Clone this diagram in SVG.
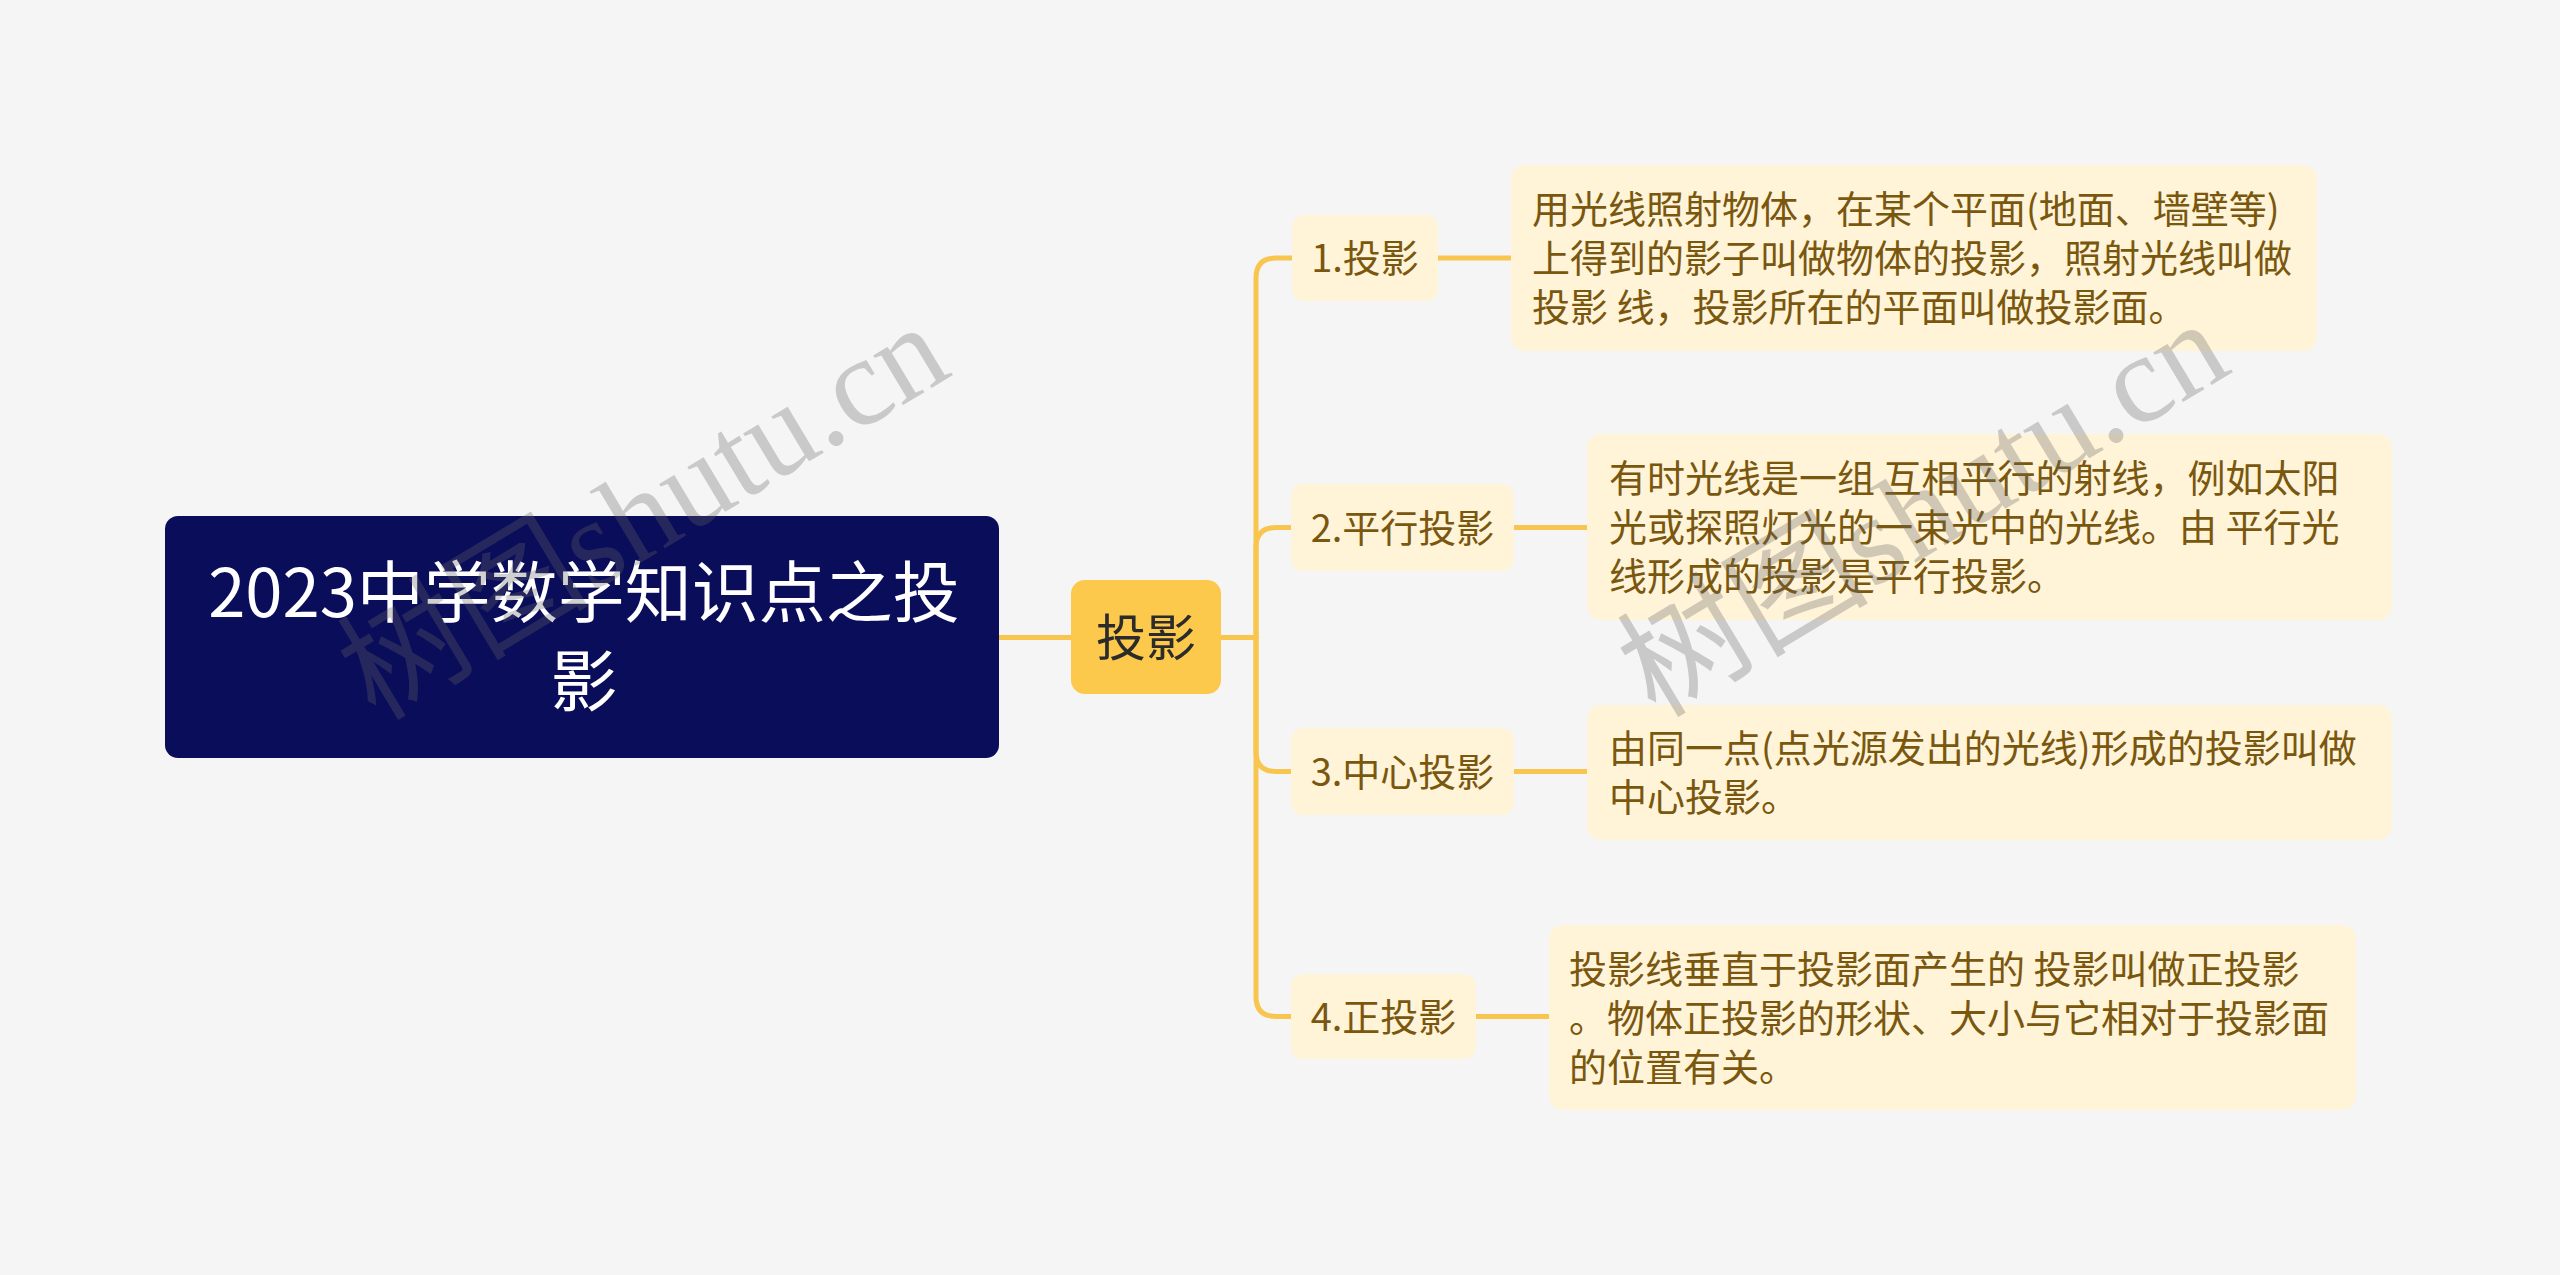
<svg xmlns="http://www.w3.org/2000/svg" width="2560" height="1275" viewBox="0 0 2560 1275">
<style>
.bg{fill:#f5f5f5}
.conn{fill:none;stroke:#f8c64f;stroke-width:5;stroke-linecap:round}
.root rect{fill:#0a0d5a}
.root text{fill:#ffffff;font-size:67px;text-anchor:middle}
.center rect{fill:#fcc94d}
.center text{fill:#2b2b2b;font-size:50px;text-anchor:middle}
.sub rect,.desc rect{fill:#fff3d8}
.sub text{fill:#7a570e;font-size:38px;text-anchor:middle}
.desc text{fill:#7a570e;font-size:38px}
text{font-family:"Noto Sans CJK SC","Noto Sans",sans-serif}
.wm{fill:#666666;opacity:0.3;font-size:126px;text-anchor:middle;font-family:"Liberation Serif","Noto Sans CJK SC",serif}
</style>
<rect class="bg" x="0" y="0" width="2560" height="1275"/>
<g id="connectors">
<path class="conn" d="M999 637.5 H1071"/>
<path class="conn" d="M1221 637.5 H1256"/>
<path class="conn" d="M1256 637.5 V278 Q1256 258 1276 258 H1292"/>
<path class="conn" d="M1256 637.5 V547.5 Q1256 527.5 1276 527.5 H1291"/>
<path class="conn" d="M1256 637.5 V751.5 Q1256 771.5 1276 771.5 H1291"/>
<path class="conn" d="M1256 637.5 V996.5 Q1256 1016.5 1276 1016.5 H1291"/>
<path class="conn" d="M1438 258 H1511"/>
<path class="conn" d="M1514 527.5 H1587"/>
<path class="conn" d="M1514 771.5 H1587"/>
<path class="conn" d="M1476 1016.5 H1549"/>
</g>
<g id="root" class="root">
<rect x="165" y="516" width="834" height="242" rx="13"/>
<text x="584" y="617">2023中学数学知识点之投</text>
<text x="584" y="706">影</text>
</g>
<g id="center" class="center">
<rect x="1071" y="580" width="150" height="114" rx="14"/>
<text x="1146" y="656">投影</text>
</g>
<g id="sub1" class="sub">
<rect x="1292" y="215" width="146" height="86" rx="12"/>
<text x="1365" y="272">1.投影</text>
</g>
<g id="sub2" class="sub">
<rect x="1291" y="484" width="223" height="87" rx="12"/>
<text x="1402.5" y="541.5">2.平行投影</text>
</g>
<g id="sub3" class="sub">
<rect x="1291" y="728" width="223" height="87" rx="12"/>
<text x="1402.5" y="785.5">3.中心投影</text>
</g>
<g id="sub4" class="sub">
<rect x="1291" y="974" width="185" height="85" rx="12"/>
<text x="1383.5" y="1030.5">4.正投影</text>
</g>
<g id="desc1" class="desc">
<rect x="1511" y="165" width="806" height="186" rx="14"/>
<text x="1532" y="223">用光线照射物体，在某个平面(地面、墙壁等)</text>
<text x="1532" y="272">上得到的影子叫做物体的投影，照射光线叫做</text>
<text x="1532" y="321">投影 线，投影所在的平面叫做投影面。</text>
</g>
<g id="desc2" class="desc">
<rect x="1587" y="434" width="805" height="186" rx="14"/>
<text x="1609" y="492">有时光线是一组 互相平行的射线，例如太阳</text>
<text x="1609" y="541">光或探照灯光的一束光中的光线。由 平行光</text>
<text x="1609" y="590">线形成的投影是平行投影。</text>
</g>
<g id="desc3" class="desc">
<rect x="1587" y="705" width="805" height="135" rx="14"/>
<text x="1609" y="762">由同一点(点光源发出的光线)形成的投影叫做</text>
<text x="1609" y="811">中心投影。</text>
</g>
<g id="desc4" class="desc">
<rect x="1549" y="925" width="807" height="185" rx="14"/>
<text x="1569" y="983">投影线垂直于投影面产生的 投影叫做正投影</text>
<text x="1569" y="1032">。物体正投影的形状、大小与它相对于投影面</text>
<text x="1569" y="1081">的位置有关。</text>
</g>
<g id="watermarks">
<text class="wm" transform="translate(665 548) rotate(-31)">树图shutu.cn</text>
<text class="wm" transform="translate(1945 545) rotate(-31)">树图shutu.cn</text>
</g>
</svg>
